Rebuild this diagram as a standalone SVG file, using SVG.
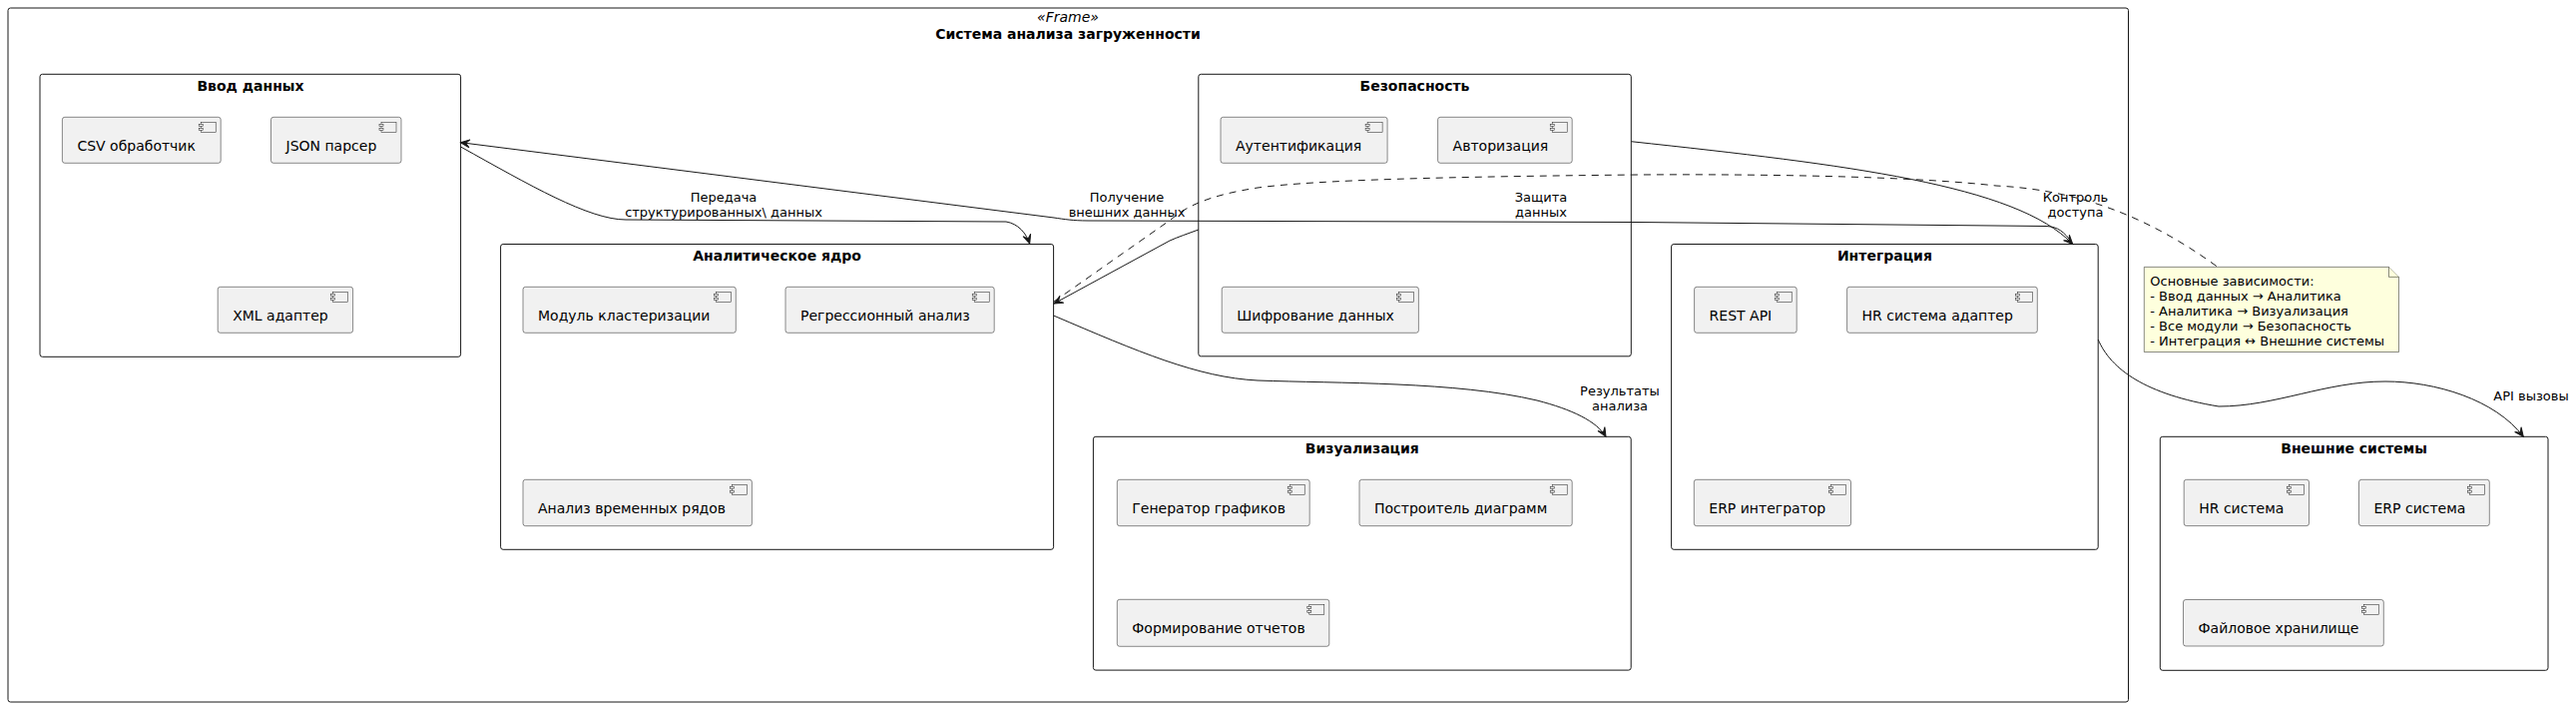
<svg xmlns="http://www.w3.org/2000/svg" width="2581" height="708" viewBox="0 0 2581 708">
<style>
text{font-family:"DejaVu Sans","Noto Sans",sans-serif;fill:#000}
.pkg{fill:none;stroke:#181818;stroke-width:1}
.cmp{fill:#F1F1F1;stroke:#181818;stroke-width:0.5}
.ct{font-size:14px}
.pt{font-size:14px;font-weight:bold;text-anchor:middle}
.lbl{font-size:13px;text-anchor:middle}
.edge{fill:none;stroke:#181818;stroke-width:1}
.dash{fill:none;stroke:#181818;stroke-width:1;stroke-dasharray:7,6}
.note{fill:#FEFFDD;stroke:#181818;stroke-width:0.5}
.nt{font-size:13px}
</style>
<defs>
<marker id="arr" markerUnits="userSpaceOnUse" viewBox="-10 -5 11 10" markerWidth="11" markerHeight="10" refX="0" refY="0" orient="auto" overflow="visible">
<path d="M0,0 L-9,-4 L-5,0 L-9,4 Z" fill="#181818" stroke="#181818" stroke-width="1"/>
</marker>
<g id="ico">
<rect x="-20" y="5" width="15" height="10" class="cmp"/>
<rect x="-22" y="7" width="4" height="2" class="cmp"/>
<rect x="-22" y="11" width="4" height="2" class="cmp"/>
</g>
</defs>
<rect width="2581" height="708" fill="#FFFFFF"/>

<g id="frame">
<rect x="8" y="8" width="2124.5" height="695" rx="2.5" class="pkg"/>
<text x="1070" y="22" font-size="14" font-style="italic" text-anchor="middle">«Frame»</text>
<text x="1070" y="38.5" class="pt">Система анализа загруженности</text>
</g>

<g id="vvod">
<rect x="40" y="74.3" width="421.6" height="283" rx="2.5" class="pkg"/>
<text x="251" y="90.5" class="pt">Ввод данных</text>
</g>
<g id="csv"><rect x="62.4" y="117.3" width="158.8" height="46" rx="2.5" class="cmp"/><use href="#ico" x="221.2" y="117.3"/><text x="77.4" y="150.8" class="ct">CSV обработчик</text></g>
<g id="json"><rect x="271.5" y="117.3" width="130.5" height="46" rx="2.5" class="cmp"/><use href="#ico" x="402" y="117.3"/><text x="286.5" y="150.8" class="ct">JSON парсер</text></g>
<g id="xml"><rect x="218.2" y="287.3" width="135.4" height="46" rx="2.5" class="cmp"/><use href="#ico" x="353.6" y="287.3"/><text x="233.2" y="320.8" class="ct">XML адаптер</text></g>

<g id="analytics">
<rect x="501.6" y="244.5" width="554" height="305.8" rx="2.5" class="pkg"/>
<text x="778.6" y="261" class="pt">Аналитическое ядро</text>
</g>
<g id="cluster"><rect x="524" y="287.3" width="213.3" height="46" rx="2.5" class="cmp"/><use href="#ico" x="737.3" y="287.3"/><text x="539" y="320.8" class="ct">Модуль кластеризации</text></g>
<g id="regr"><rect x="787" y="287.3" width="209.2" height="46" rx="2.5" class="cmp"/><use href="#ico" x="996.2" y="287.3"/><text x="802" y="320.8" class="ct">Регрессионный анализ</text></g>
<g id="ts"><rect x="524" y="480.3" width="229.4" height="46.4" rx="2.5" class="cmp"/><use href="#ico" x="753.4" y="480.3"/><text x="539" y="513.8" class="ct">Анализ временных рядов</text></g>

<g id="security">
<rect x="1200.8" y="74.3" width="433.5" height="282.5" rx="2.5" class="pkg"/>
<text x="1417.5" y="90.5" class="pt">Безопасность</text>
</g>
<g id="auth"><rect x="1223" y="117.3" width="167.1" height="46" rx="2.5" class="cmp"/><use href="#ico" x="1390.1" y="117.3"/><text x="1238" y="150.8" class="ct">Аутентификация</text></g>
<g id="authz"><rect x="1440.6" y="117.3" width="134.6" height="46" rx="2.5" class="cmp"/><use href="#ico" x="1575.2" y="117.3"/><text x="1455.6" y="150.8" class="ct">Авторизация</text></g>
<g id="enc"><rect x="1224.2" y="287.3" width="197.2" height="46" rx="2.5" class="cmp"/><use href="#ico" x="1421.4" y="287.3"/><text x="1239.2" y="320.8" class="ct">Шифрование данных</text></g>

<g id="integration">
<rect x="1674.6" y="244.5" width="427.6" height="305.8" rx="2.5" class="pkg"/>
<text x="1888.4" y="261" class="pt">Интеграция</text>
</g>
<g id="rest"><rect x="1697.6" y="287.3" width="102.6" height="46" rx="2.5" class="cmp"/><use href="#ico" x="1800.2" y="287.3"/><text x="1712.6" y="320.8" class="ct">REST API</text></g>
<g id="hradapt"><rect x="1850.6" y="287.3" width="190.7" height="46" rx="2.5" class="cmp"/><use href="#ico" x="2041.3" y="287.3"/><text x="1865.6" y="320.8" class="ct">HR система адаптер</text></g>
<g id="erpint"><rect x="1697.3" y="480.3" width="157.2" height="46.4" rx="2.5" class="cmp"/><use href="#ico" x="1854.5" y="480.3"/><text x="1712.3" y="513.8" class="ct">ERP интегратор</text></g>

<g id="viz">
<rect x="1095.4" y="437.3" width="538.8" height="233.8" rx="2.5" class="pkg"/>
<text x="1364.8" y="453.8" class="pt">Визуализация</text>
</g>
<g id="charts"><rect x="1119.3" y="480.3" width="192.9" height="46.4" rx="2.5" class="cmp"/><use href="#ico" x="1312.2" y="480.3"/><text x="1134.3" y="513.8" class="ct">Генератор графиков</text></g>
<g id="diagrams"><rect x="1362" y="480.3" width="213.2" height="46.4" rx="2.5" class="cmp"/><use href="#ico" x="1575.2" y="480.3"/><text x="1377" y="513.8" class="ct">Построитель диаграмм</text></g>
<g id="reports"><rect x="1119.3" y="600.3" width="212.5" height="47" rx="2.5" class="cmp"/><use href="#ico" x="1331.8" y="600.3"/><text x="1134.3" y="633.8" class="ct">Формирование отчетов</text></g>

<g id="ext">
<rect x="2164.3" y="437.3" width="388.7" height="234" rx="2.5" class="pkg"/>
<text x="2358.6" y="453.8" class="pt">Внешние системы</text>
</g>
<g id="hr"><rect x="2188.2" y="480.3" width="125.3" height="46.3" rx="2.5" class="cmp"/><use href="#ico" x="2313.5" y="480.3"/><text x="2203.2" y="513.8" class="ct">HR система</text></g>
<g id="erp"><rect x="2363.5" y="480.3" width="130.8" height="46.3" rx="2.5" class="cmp"/><use href="#ico" x="2494.3" y="480.3"/><text x="2378.5" y="513.8" class="ct">ERP система</text></g>
<g id="files"><rect x="2187.5" y="600.5" width="200.8" height="46.5" rx="2.5" class="cmp"/><use href="#ico" x="2388.3" y="600.5"/><text x="2202.5" y="634" class="ct">Файловое хранилище</text></g>

<g id="note">
<path d="M2148.3,267.4 L2393.5,267.4 L2403.5,277.4 L2403.5,352.5 L2148.3,352.5 Z" class="note"/>
<path d="M2393.5,267.4 L2393.5,277.4 L2403.5,277.4" class="note"/>
<text class="nt" x="2154.3" y="285.5">Основные зависимости:</text>
<text class="nt" x="2154.3" y="300.6">- Ввод данных → Аналитика</text>
<text class="nt" x="2154.3" y="315.7">- Аналитика → Визуализация</text>
<text class="nt" x="2154.3" y="330.8">- Все модули → Безопасность</text>
<text class="nt" x="2154.3" y="345.9">- Интеграция ↔ Внешние системы</text>
</g>

<g id="connectors">
<path class="edge" marker-end="url(#arr)" d="M461.6,147 C530,185 590,220 627,220 L1008,222 C1020,224 1028,233 1031.7,244"/>
<text class="lbl" x="725" y="201.5">Передача</text>
<text class="lbl" x="725" y="216.5">структурированных\ данных</text>

<path class="edge" marker-end="url(#arr)" d="M2076,243 C2068,232 2062,227 2050,226.5 L1640,222.5 L1090,221 C1075,221 1066,219.5 1056,218 L461.6,142.7"/>
<text class="lbl" x="1129" y="201.5">Получение</text>
<text class="lbl" x="1129" y="216.5">внешних данных</text>

<path class="edge" marker-end="url(#arr)" d="M1200.8,230 C1190,234 1181,237 1172,241 L1056,304"/>
<text class="lbl" x="1544" y="201.5">Защита</text>
<text class="lbl" x="1544" y="216.5">данных</text>

<path class="edge" marker-end="url(#arr)" d="M1634.3,141.7 C1850,165 2020,185 2076.7,244.5"/>
<text class="lbl" x="2079.5" y="201.5">Контроль</text>
<text class="lbl" x="2079.5" y="216.5">доступа</text>

<path class="edge" marker-end="url(#arr)" d="M1055.6,316 C1140,352 1200,378 1260,381 C1340,384 1460,382 1540,401 C1575,410 1600,422 1609,437.3"/>
<text class="lbl" x="1623" y="395.5">Результаты</text>
<text class="lbl" x="1623" y="410.5">анализа</text>

<path class="edge" marker-end="url(#arr)" d="M2102.2,340 C2115,370 2150,395 2223,407 C2280,407 2330,382 2390,382 C2440,382 2500,400 2528.3,437.3"/>
<text class="lbl" x="2536" y="401">API вызовы</text>

<path class="dash" d="M1056,302 L1173,220 C1190,205 1215,195 1260,188 C1320,180 1450,177 1640,175 C1800,174 1930,178 2000,186 C2080,190 2150,215 2222,267.4"/>
</g>
</svg>
